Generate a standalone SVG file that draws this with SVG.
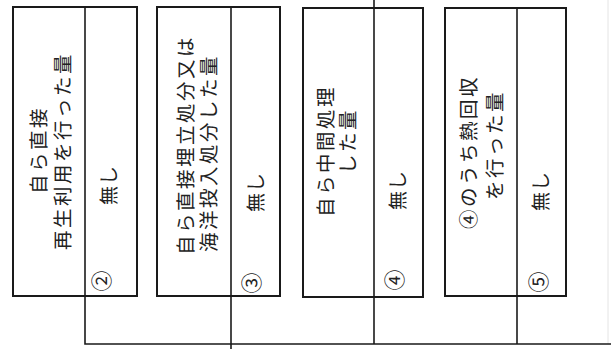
<svg xmlns="http://www.w3.org/2000/svg" width="611" height="349" viewBox="0 0 611 349">
<style>
.box{fill:#fff;stroke:#1a1a1a;stroke-width:2}
.div{stroke:#1a1a1a;stroke-width:1.6}
.con{fill:none;stroke:#1a1a1a;stroke-width:1.6}
.edge{stroke:#e4e4e4;stroke-width:1}
text{font-family:"Noto Sans CJK JP","Noto Sans",sans-serif;fill:#222;text-anchor:middle;dominant-baseline:central}
.t{font-size:19.5px;letter-spacing:2.5px}
.n{font-size:19px;letter-spacing:1px}
.c{font-size:21px}
</style>
<rect width="611" height="349" fill="#fff"/>
<line class="edge" x1="608" y1="0" x2="608" y2="344"/>
<g id="connectors">
<polyline class="con" points="85,296 85,344 611,344"/>
<line class="con" x1="231" y1="296" x2="231" y2="349"/>
<line class="con" x1="374" y1="0" x2="374" y2="8"/>
<line class="con" x1="374" y1="297" x2="374" y2="344"/>
<line class="con" x1="517" y1="296" x2="517" y2="344"/>
</g>
<g id="node2">
<rect class="box" x="13" y="7" width="124" height="289"/>
<line class="div" x1="85" y1="7" x2="85" y2="296"/>
<text class="t" transform="translate(37,150) rotate(-90)">自ら直接</text>
<text class="t" transform="translate(61,151) rotate(-90)">再生利用を行った量</text>
<text class="n" transform="translate(107,185) rotate(-90)">無し</text>
<text class="c" transform="translate(100,281) rotate(-90)">②</text>
</g>
<g id="node3">
<rect class="box" x="157" y="7" width="123" height="289"/>
<line class="div" x1="231" y1="7" x2="231" y2="296"/>
<text class="t" transform="translate(184,145) rotate(-90)">自ら直接埋立処分又は</text>
<text class="t" transform="translate(207,153) rotate(-90)">海洋投入処分した量</text>
<text class="n" transform="translate(254,192) rotate(-90)">無し</text>
<text class="c" transform="translate(250,283) rotate(-90)">③</text>
</g>
<g id="node4">
<rect class="box" x="303" y="8" width="120" height="289"/>
<line class="div" x1="374" y1="8" x2="374" y2="297"/>
<text class="t" transform="translate(324,151) rotate(-90)">自ら中間処理</text>
<text class="t" transform="translate(346,141) rotate(-90)">した量</text>
<text class="n" transform="translate(396,190) rotate(-90)">無し</text>
<text class="c" transform="translate(393,280) rotate(-90)">④</text>
</g>
<g id="node5">
<rect class="box" x="445" y="8" width="121" height="288"/>
<line class="div" x1="517" y1="8" x2="517" y2="296"/>
<text class="t" transform="translate(467,152) rotate(-90)">④のうち熱回収</text>
<text class="t" transform="translate(493,145) rotate(-90)">を行った量</text>
<text class="n" transform="translate(539,191) rotate(-90)">無し</text>
<text class="c" transform="translate(537,282) rotate(-90)">⑤</text>
</g>
</svg>
